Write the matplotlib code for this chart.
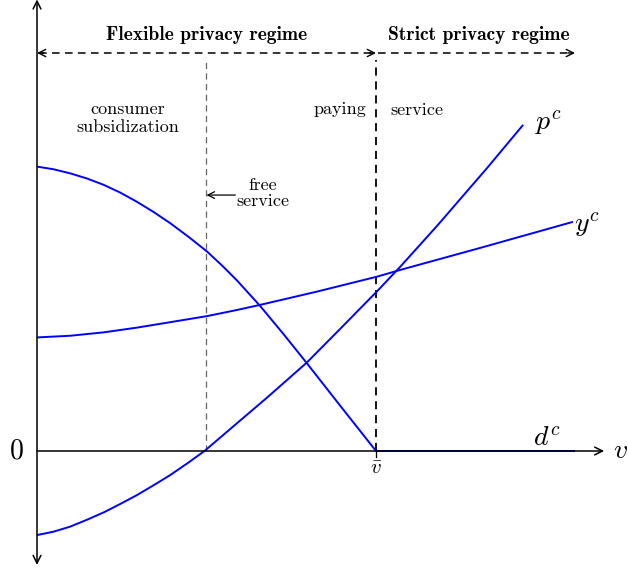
import matplotlib
matplotlib.use("Agg")
import matplotlib.pyplot as plt

plt.rcParams['mathtext.fontset'] = 'cm'
plt.rcParams['font.family'] = 'serif'
plt.rcParams['font.serif'] = ['cmr10']
plt.rcParams['axes.unicode_minus'] = False

# ---- data (v normalised so that v_bar = 1) ----
d_v = [0.0, 0.049, 0.098, 0.147, 0.197, 0.246, 0.295, 0.344, 0.393, 0.448, 0.502, 0.546, 0.590, 0.658, 0.727, 0.796, 0.894, 1.0, 1.587]
d_y = [0.839, 0.831, 0.819, 0.804, 0.785, 0.762, 0.735, 0.705, 0.672, 0.631, 0.588, 0.547, 0.503, 0.428, 0.345, 0.259, 0.134, 0.0, 0.0]

y_v = [0.0, 0.098, 0.197, 0.295, 0.393, 0.502, 0.590, 0.658, 0.825, 1.002, 1.071, 1.307, 1.581]
y_y = [0.335, 0.340, 0.350, 0.364, 0.380, 0.398, 0.416, 0.431, 0.470, 0.514, 0.534, 0.599, 0.676]

p_v = [0.0, 0.049, 0.098, 0.147, 0.197, 0.246, 0.295, 0.344, 0.393, 0.444, 0.494, 0.590, 0.678, 0.796, 0.894, 1.002, 1.071, 1.180, 1.327, 1.434]
p_y = [-0.248, -0.238, -0.223, -0.203, -0.181, -0.156, -0.130, -0.101, -0.071, -0.036, 0.0, 0.082, 0.157, 0.261, 0.360, 0.470, 0.543, 0.664, 0.834, 0.962]

v_bar = 1.0
v_free = 0.5
regime_labels = ["Flexible privacy regime", "Strict privacy regime"]

BLUE = (0, 0, 1)

fig = plt.figure(figsize=(6.28, 5.72), dpi=100)
ax = fig.add_axes([0, 0, 1, 1])
ax.set_xlim(-37 / 339, 591 / 339)
ax.set_ylim(-121 / 339, 451 / 339)
ax.axis('off')

def arrow(x0, y0, x1, y1, style='->', lw=1.0, color='black', ms=14):
    ax.annotate('', xy=(x1, y1), xytext=(x0, y0), annotation_clip=False,
                arrowprops=dict(arrowstyle=style, lw=lw, color=color,
                                mutation_scale=ms, shrinkA=0, shrinkB=0))

# axes
arrow(0, -0.336, 0, 1.332, style='<->', lw=1.1)
arrow(0, 0, 1.673, 0, style='->', lw=1.1)

# vertical dashed lines
ax.plot([v_free, v_free], [0, 1.153], color='#666666', lw=0.9, dashes=(5, 3.5))
ax.plot([v_bar, v_bar], [0, 1.153], color='black', lw=1.3, dashes=(4.5, 3.2))

# top dashed regime arrows
ytop = 1.174
ax.plot([0.005, v_bar - 0.005], [ytop, ytop], color='black', lw=1.1, dashes=(5, 3.5))
ax.plot([v_bar + 0.005, 1.582], [ytop, ytop], color='black', lw=1.1, dashes=(5, 3.5))
arrow(0.02, ytop, 0.0, ytop, lw=1.0, ms=13)
arrow(v_bar - 0.02, ytop, v_bar, ytop, lw=1.0, ms=13)
arrow(1.567, ytop, 1.587, ytop, lw=1.0, ms=13)

# curves
for xs, ys in [(d_v, d_y), (y_v, y_y), (p_v, p_y)]:
    ax.plot(xs, ys, color=BLUE, lw=1.4, solid_capstyle='butt', solid_joinstyle='round')

# v_bar tick
ax.plot([v_bar, v_bar], [0, -0.018], color='black', lw=0.9)
ax.text(v_bar, -0.052, r'$\bar{v}$', fontsize=15, ha='center', va='center')

# labels
ax.text(-0.06, 0, r'$0$', fontsize=20, ha='center', va='center')
ax.text(1.72, 0, r'$v$', fontsize=20, ha='center', va='center')
ax.text(1.468, 0.965, r'$p^c$', fontsize=20, ha='left', va='center')
ax.text(1.585, 0.667, r'$y^c$', fontsize=20, ha='left', va='center')
ax.text(1.505, 0.036, r'$d^c$', fontsize=20, ha='center', va='center')

# regime headings
ax.text(0.5, 1.227, regime_labels[0], fontsize=14, family='cmb10',
        ha='center', va='center')
ax.text(1.304, 1.227, regime_labels[1], fontsize=14, family='cmb10',
        ha='center', va='center')

# small annotations
fs = 13
ax.text(0.268, 0.982, 'consumer\nsubsidization', fontsize=fs, ha='center',
        va='center', linespacing=1.2)
ax.text(0.971, 1.009, 'paying', fontsize=fs, ha='right', va='center')
ax.text(1.041, 1.006, 'service', fontsize=fs, ha='left', va='center')
ax.text(0.667, 0.761, 'free\nservice', fontsize=fs, ha='center', va='center',
        linespacing=1.05)
arrow(0.585, 0.755, v_free, 0.755, lw=0.9, ms=12)

fig.savefig('out.png', dpi=100)
